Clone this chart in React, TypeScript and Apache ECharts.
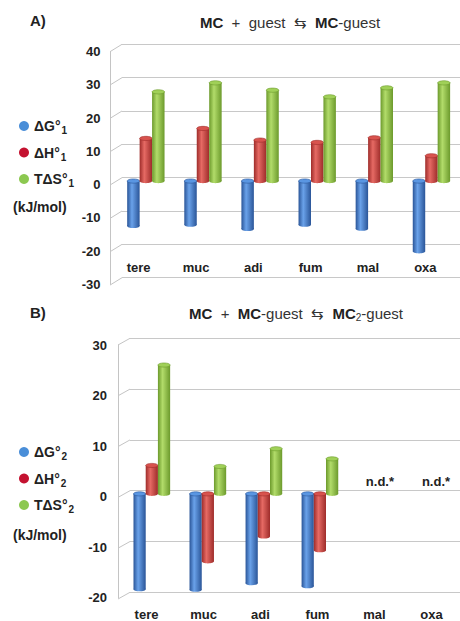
import React, { useEffect, useRef } from 'react';
import * as echarts from 'echarts';

const categories = ['tere', 'muc', 'adi', 'fum', 'mal', 'oxa'];

// Panel A: MC + guest <=> MC-guest (kJ/mol)
const dG1 = [-13.5, -13.1, -14.4, -13.1, -14.3, -21.1];
const dH1 = [12.8, 15.8, 12.3, 11.6, 13.0, 7.6];
const TdS1 = [26.8, 29.5, 27.3, 25.3, 28.0, 29.5];

// Panel B: MC + MC-guest <=> MC2-guest (kJ/mol); null = not determined
const dG2: (number | null)[] = [-18.8, -18.9, -17.6, -18.2, null, null];
const dH2: (number | null)[] = [5.6, -13.3, -8.4, -11.1, null, null];
const TdS2: (number | null)[] = [25.4, 5.4, 8.9, 6.9, null, null];
const notDetermined = ['mal', 'oxa'];

const ticksA = [-30, -20, -10, 0, 10, 20, 30, 40];
const ticksB = [-20, -10, 0, 10, 20, 30];

const FONT = '"Liberation Sans", Arial, sans-serif';
const TXT = '#222';

const PALETTE = [
  { legend: '#4a8ed8', dark: '#2a5598', light: '#6aa2ea', cap: '#5a96e2' },
  { legend: '#c41230', dark: '#9e2c2a', light: '#e66a64', cap: '#d8534e' },
  { legend: '#8cc850', dark: '#6c9a2c', light: '#b2dc6a', cap: '#a0d058' },
];

function toData(arr: (number | null)[]) {
  const out: number[][] = [];
  arr.forEach((v, i) => {
    if (v !== null && v !== undefined) out.push([i, v]);
  });
  return out;
}

function cylinder(k: number, pal: { dark: string; light: string; cap: string }) {
  return (params: any, api: any) => {
    const i = api.value(0);
    const v = api.value(1);
    const band = api.size([1, 0])[0];
    const w = band * 0.218;
    const p0 = api.coord([i, 0]);
    const p1 = api.coord([i, v]);
    const cx = p0[0] + k * w;
    const top = Math.min(p0[1], p1[1]);
    const bot = Math.max(p0[1], p1[1]);
    const ry = w * 0.17;
    const grad = new echarts.graphic.LinearGradient(0, 0, 1, 0, [
      { offset: 0, color: pal.dark },
      { offset: 0.38, color: pal.light },
      { offset: 1, color: pal.dark },
    ]);
    return {
      type: 'group',
      children: [
        { type: 'rect', shape: { x: cx - w / 2, y: top, width: w, height: bot - top }, style: { fill: grad } },
        { type: 'ellipse', shape: { cx, cy: bot, rx: w / 2, ry }, style: { fill: grad } },
        { type: 'ellipse', shape: { cx, cy: top, rx: w / 2, ry }, style: { fill: pal.cap, stroke: pal.dark, lineWidth: 0.6 } },
      ],
    };
  };
}

function diagonals(dx: number, dy: number) {
  return (params: any, api: any) => {
    const y = api.coord([0, api.value(1)])[1];
    const x = params.coordSys.x;
    return {
      type: 'line',
      shape: { x1: x - dx, y1: y + dy, x2: x, y2: y },
      style: { stroke: '#c4c4c4', lineWidth: 1 },
    };
  };
}

const legendRich = {
  a: { fontSize: 14, fontWeight: 'bold', color: TXT, fontFamily: FONT, verticalAlign: 'middle' },
  s: { fontSize: 10, fontWeight: 'bold', color: TXT, fontFamily: FONT, padding: [9, 0, 0, 1], verticalAlign: 'bottom' },
};

const legendLabels: Record<string, string> = {
  dG1: '{a|ΔG°}{s|1}',
  dH1: '{a|ΔH°}{s|1}',
  TdS1: '{a|TΔS°}{s|1}',
  dG2: '{a|ΔG°}{s|2}',
  dH2: '{a|ΔH°}{s|2}',
  TdS2: '{a|TΔS°}{s|2}',
};

export default function App() {
  const ref = useRef<HTMLDivElement>(null);
  useEffect(() => {
    if (!ref.current) return;
    const chart = echarts.init(ref.current, null, { renderer: 'svg' });

    const valueAxisBase = (min: number, max: number, gridIndex: number) => ({
      type: 'value', gridIndex, min, max, interval: 10,
    });

    const frontY = (min: number, max: number, gridIndex: number, margin: number) => ({
      ...valueAxisBase(min, max, gridIndex),
      axisLine: { show: true, lineStyle: { color: '#c4c4c4', width: 1 } },
      axisTick: { show: false },
      splitLine: { show: false },
      axisLabel: { color: TXT, fontWeight: 'bold', fontSize: 13, fontFamily: FONT, margin },
    });
    const wallY = (min: number, max: number, gridIndex: number) => ({
      ...valueAxisBase(min, max, gridIndex),
      axisLine: { show: false }, axisTick: { show: false }, axisLabel: { show: false },
      splitLine: { show: true, lineStyle: { color: '#c8c8c8', width: 1 } },
    });
    const barsY = (min: number, max: number, gridIndex: number) => ({
      ...valueAxisBase(min, max, gridIndex), show: false,
    });
    const hiddenX = (gridIndex: number) => ({
      type: 'category', gridIndex, data: categories, show: false,
    });

    const option: any = {
      animation: false,
      backgroundColor: '#ffffff',
      grid: [
        { left: 110, top: 51.7, width: 344, height: 232.6 }, // 0 A front
        { left: 122, top: 44.3, width: 340, height: 233.4 }, // 1 A wall
        { left: 117.3, top: 47.9, width: 344, height: 233 }, // 2 A bars
        { left: 118, top: 345, width: 350, height: 253.3 }, // 3 B front
        { left: 130, top: 338.3, width: 332, height: 254 }, // 4 B wall
        { left: 123.8, top: 341.7, width: 338.4, height: 253.6 }, // 5 B bars
      ],
      xAxis: [
        {
          type: 'category', gridIndex: 0, data: categories,
          axisLine: { show: false }, axisTick: { show: false },
          axisLabel: { inside: true, margin: 16.6, verticalAlign: 'middle', color: TXT, fontWeight: 'bold', fontSize: 13, fontFamily: FONT },
        },
        hiddenX(1),
        hiddenX(2),
        {
          type: 'category', gridIndex: 3, data: categories,
          axisLine: { show: false }, axisTick: { show: false },
          axisLabel: { margin: 16.7, verticalAlign: 'middle', color: TXT, fontWeight: 'bold', fontSize: 13, fontFamily: FONT },
        },
        hiddenX(4),
        hiddenX(5),
      ],
      yAxis: [
        frontY(-30, 40, 0, 9.5),
        wallY(-30, 40, 1),
        barsY(-30, 40, 2),
        frontY(-20, 30, 3, 11),
        wallY(-20, 30, 4),
        barsY(-20, 30, 5),
      ],
      legend: [
        {
          data: ['dG1', 'dH1', 'TdS1'], orient: 'vertical', left: 14, top: 114, itemGap: 10,
          icon: 'circle', itemWidth: 10, itemHeight: 10, selectedMode: false,
          formatter: (n: string) => legendLabels[n], textStyle: { rich: legendRich },
        },
        {
          data: ['dG2', 'dH2', 'TdS2'], orient: 'vertical', left: 14, top: 440, itemGap: 10,
          icon: 'circle', itemWidth: 10, itemHeight: 10, selectedMode: false,
          formatter: (n: string) => legendLabels[n], textStyle: { rich: legendRich },
        },
      ],
      series: [
        { type: 'custom', name: 'gridA', xAxisIndex: 1, yAxisIndex: 1, data: ticksA.map((t) => [0, t]), renderItem: diagonals(12, 7.4), silent: true, z: 1 },
        { type: 'custom', name: 'gridB', xAxisIndex: 4, yAxisIndex: 4, data: ticksB.map((t) => [0, t]), renderItem: diagonals(12, 6.7), silent: true, z: 1 },
        { type: 'custom', name: 'dG1', xAxisIndex: 2, yAxisIndex: 2, data: toData(dG1), renderItem: cylinder(-1, PALETTE[0]), itemStyle: { color: PALETTE[0].legend }, encode: { x: 0, y: 1 } },
        { type: 'custom', name: 'dH1', xAxisIndex: 2, yAxisIndex: 2, data: toData(dH1), renderItem: cylinder(0, PALETTE[1]), itemStyle: { color: PALETTE[1].legend }, encode: { x: 0, y: 1 } },
        { type: 'custom', name: 'TdS1', xAxisIndex: 2, yAxisIndex: 2, data: toData(TdS1), renderItem: cylinder(1, PALETTE[2]), itemStyle: { color: PALETTE[2].legend }, encode: { x: 0, y: 1 } },
        { type: 'custom', name: 'dG2', xAxisIndex: 5, yAxisIndex: 5, data: toData(dG2), renderItem: cylinder(-1, PALETTE[0]), itemStyle: { color: PALETTE[0].legend }, encode: { x: 0, y: 1 } },
        { type: 'custom', name: 'dH2', xAxisIndex: 5, yAxisIndex: 5, data: toData(dH2), renderItem: cylinder(0, PALETTE[1]), itemStyle: { color: PALETTE[1].legend }, encode: { x: 0, y: 1 } },
        { type: 'custom', name: 'TdS2', xAxisIndex: 5, yAxisIndex: 5, data: toData(TdS2), renderItem: cylinder(1, PALETTE[2]), itemStyle: { color: PALETTE[2].legend }, encode: { x: 0, y: 1 } },
        {
          type: 'custom', name: 'nd', xAxisIndex: 5, yAxisIndex: 5, silent: true,
          data: notDetermined.map((c) => [categories.indexOf(c), 0]),
          renderItem: (params: any, api: any) => {
            const p = api.coord([api.value(0), 0]);
            return {
              type: 'text', x: p[0] + 4, y: p[1] - 12,
              style: { text: 'n.d.*', fill: TXT, font: `bold 13px ${FONT}`, align: 'center', verticalAlign: 'middle' },
            };
          },
        },
      ],
      graphic: [
        { type: 'text', left: 30, top: 13, style: { text: 'A)', fill: TXT, font: `bold 15px ${FONT}` } },
        { type: 'text', left: 30, top: 305, style: { text: 'B)', fill: TXT, font: `bold 15px ${FONT}` } },
        {
          type: 'text', x: 290, y: 22,
          style: {
            text: '{b|MC}{n|  +  guest  ⇆  }{b|MC}{n|-guest}',
            align: 'center', verticalAlign: 'middle',
            rich: {
              b: { fontSize: 15, fontWeight: 'bold', fill: TXT, fontFamily: FONT },
              n: { fontSize: 15, fill: '#333', fontFamily: FONT },
            },
          },
        },
        {
          type: 'text', x: 296, y: 313,
          style: {
            text: '{b|MC}{n|  +  }{b|MC}{n|-guest  ⇆  }{b|MC}{s|2}{n|-guest}',
            align: 'center', verticalAlign: 'middle',
            rich: {
              b: { fontSize: 15, fontWeight: 'bold', fill: TXT, fontFamily: FONT, verticalAlign: 'middle' },
              n: { fontSize: 15, fill: '#333', fontFamily: FONT, verticalAlign: 'middle' },
              s: { fontSize: 10, fill: '#333', fontFamily: FONT, padding: [8, 0, 0, 0], verticalAlign: 'bottom' },
            },
          },
        },
        { type: 'text', left: 13, top: 200, style: { text: '(kJ/mol)', fill: TXT, font: `bold 14px ${FONT}` } },
        { type: 'text', left: 13, top: 528, style: { text: '(kJ/mol)', fill: TXT, font: `bold 14px ${FONT}` } },
      ],
    };

    chart.setOption(option);
    return () => chart.dispose();
  }, []);

  return (
    <div
      ref={ref}
      style={{ position: 'absolute', left: 0, top: 0, width: 460, height: 621, background: '#fff' }}
    />
  );
}
